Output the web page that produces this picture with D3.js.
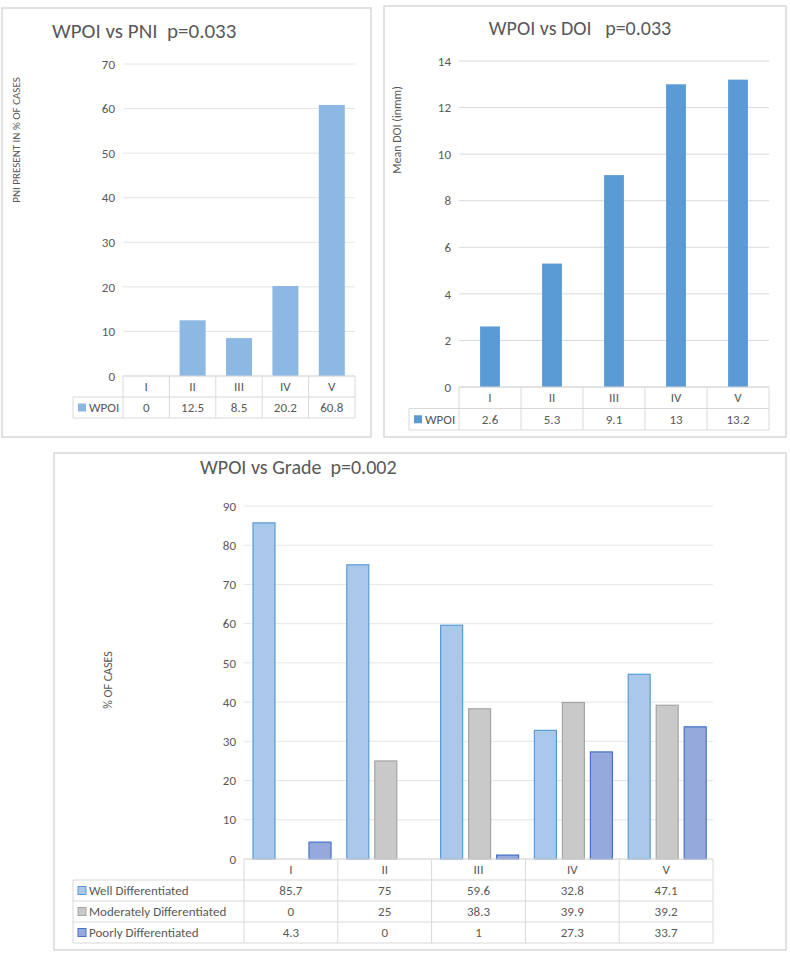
<!DOCTYPE html>
<html><head><meta charset="utf-8">
<script src="https://cdn.jsdelivr.net/npm/d3@7"></script>
<style>body{margin:0;background:#fff}text{font-family:Calibri,Carlito,"Open Sans",sans-serif}</style>
</head><body><svg id="c" width="790" height="954"></svg>
<script>
const grades = ["I","II","III","IV","V"];
const pniValues = [0,12.5,8.5,20.2,60.8];
const doiValues = [2.6,5.3,9.1,13,13.2];
const gradeSeries = ["Well Differentiated","Moderately Differentiated","Poorly Differentiated"];
const wellValues = [85.7,75,59.6,32.8,47.1];
const modValues = [0,25,38.3,39.9,39.2];
const poorValues = [4.3,0,1,27.3,33.7];
const pniTicks = [0,10,20,30,40,50,60,70];
const doiTicks = [0,2,4,6,8,10,12,14];
const gradeTicks = [0,10,20,30,40,50,60,70,80,90];

const svg = d3.select("#c");
const txt = "#595959", grid = "#e6e6e6", tb = "#d9d9d9";

function panel(o){
  svg.append("rect").attr("x",o.box[0]).attr("y",o.box[1]).attr("width",o.box[2]).attr("height",o.box[3])
    .attr("fill","#fff").attr("stroke","#d9d9d9").attr("stroke-width",1.5);
  svg.append("text").attr("x",o.title[0]).attr("y",o.title[1]).attr("font-size",o.tsize)
    .attr("fill",txt).attr("text-anchor",o.tanchor||"start").attr("xml:space","preserve").text(o.titleText);
  const x = d3.scaleBand().domain(grades).range([o.x0,o.x1]);
  const y = d3.scaleLinear().domain([0,o.ymax]).range([o.y0,o.ytop]);
  const g = svg.append("g");
  g.selectAll(".gl").data(o.ticks).join("line").attr("x1",o.x0).attr("x2",o.x1)
    .attr("y1",d=>y(d)).attr("y2",d=>y(d)).attr("stroke",o.gridc||grid).attr("stroke-width",1);
  const ax = g.append("g").attr("transform",`translate(${o.x0-8},0)`)
    .call(d3.axisLeft(y).tickValues(o.ticks).tickSize(0).tickPadding(0));
  ax.select(".domain").remove();
  ax.selectAll("text").attr("fill",txt).attr("font-size",13).style("font-family","Calibri,Carlito,'Open Sans',sans-serif");
  svg.append("text").attr("transform",`translate(${o.ylab[0]},${o.ylab[1]}) rotate(-90)`)
    .attr("text-anchor","middle").attr("font-size",o.ylsize||12).attr("fill",txt).text(o.ylabText);
  // bars
  const n = o.series.length;
  o.series.forEach((s,i)=>{
    g.selectAll(".b"+i).data(s.values).join("rect")
      .attr("x",(d,j)=> n===1 ? x(grades[j])+x.bandwidth()*o.bpad : x(grades[j])+o.boff+i*o.pitch-o.bw/2)
      .attr("width", n===1 ? x.bandwidth()*(1-2*o.bpad) : o.bw)
      .attr("y",d=>y(d)).attr("height",d=>o.y0-y(d))
      .attr("fill",s.fill).attr("stroke",s.stroke||"none").attr("stroke-width",1.2);
  });
  // table
  const rh = o.rh;
  const tbl = svg.append("g");
  tbl.append("line").attr("x1",o.x0).attr("x2",o.x1).attr("y1",o.y0).attr("y2",o.y0).attr("stroke",tb);
  const bottom = o.y0+rh*(n+1);
  grades.forEach((gname,j)=>{
    const cx = x(gname)+x.bandwidth()/2;
    tbl.append("text").attr("x",cx).attr("y",o.y0+rh/2+4.5).attr("text-anchor","middle").attr("font-size",13).attr("fill",txt).text(gname);
  });
  for(let k=0;k<=5;k++){
    const xx = o.x0+(o.x1-o.x0)*k/5;
    tbl.append("line").attr("x1",xx).attr("x2",xx).attr("y1",o.y0).attr("y2",bottom).attr("stroke",tb);
  }
  tbl.append("line").attr("x1",o.lx).attr("x2",o.lx).attr("y1",o.y0+rh).attr("y2",bottom).attr("stroke",tb);
  for(let r=1;r<=n+1;r++){
    tbl.append("line").attr("x1",o.lx).attr("x2",o.x1).attr("y1",o.y0+rh*r).attr("y2",o.y0+rh*r).attr("stroke",tb);
  }
  o.series.forEach((s,i)=>{
    const ry = o.y0+rh*(i+1);
    tbl.append("rect").attr("x",o.lx+5).attr("y",ry+rh/2-4).attr("width",8).attr("height",8)
      .attr("fill",s.fill).attr("stroke",s.stroke||"none");
    tbl.append("text").attr("x",o.lx+16).attr("y",ry+rh/2+4.5).attr("font-size",13).attr("fill",txt).text(s.name);
    s.values.forEach((v,j)=>{
      tbl.append("text").attr("x",x(grades[j])+x.bandwidth()/2).attr("y",ry+rh/2+4.5)
        .attr("text-anchor","middle").attr("font-size",13).attr("fill",txt).text(v);
    });
  });
}

panel({box:[2,8,369,429],title:[52,38],tsize:21,titleText:"WPOI vs PNI  p=0.033",
  x0:123,x1:355,y0:376,ytop:64,ymax:70,ticks:pniTicks,ylab:[20,140],ylabText:"PNI PRESENT IN % OF CASES",ylsize:11,
  series:[{name:"WPOI",values:pniValues,fill:"#8db8e3"}],bpad:0.22,rh:21,lx:73});
panel({box:[384,6,402,431],title:[580,35],tsize:20,tanchor:"middle",titleText:"WPOI vs DOI   p=0.033",
  x0:459,x1:769,y0:387,ytop:61,ymax:14,ticks:doiTicks,ylab:[401,130],ylabText:"Mean DOI (inmm)",ylsize:12,gridc:"#d9d9d9",
  series:[{name:"WPOI",values:doiValues,fill:"#5b9bd5"}],bpad:0.34,rh:21.5,lx:409});
panel({box:[54,453,732,497],title:[200,474],tsize:20,titleText:"WPOI vs Grade  p=0.002",
  x0:244,x1:713,y0:859,ytop:506,ymax:90,ticks:gradeTicks,ylab:[112,680],ylabText:"% OF CASES",ylsize:12,
  series:[{name:gradeSeries[0],values:wellValues,fill:"#a9c8ea",stroke:"#5b9bd5"},
          {name:gradeSeries[1],values:modValues,fill:"#c9c9c9",stroke:"#a5a5a5"},
          {name:gradeSeries[2],values:poorValues,fill:"#96a9dc",stroke:"#4472c4"}],
  boff:20,pitch:28,bw:22,rh:21,lx:73});
</script></body></html>
